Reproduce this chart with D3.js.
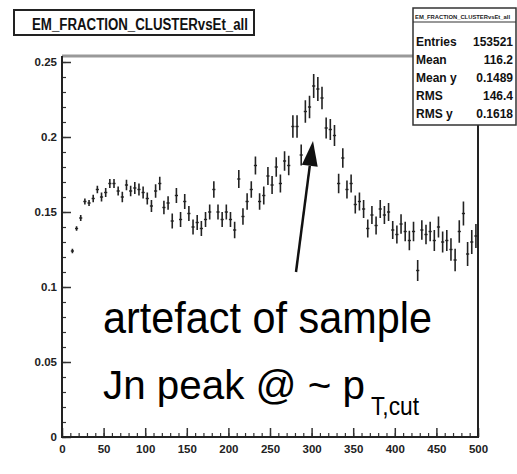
<!DOCTYPE html>
<html><head><meta charset="utf-8">
<script src="https://cdn.jsdelivr.net/npm/d3@7"></script>
<style>html,body{margin:0;padding:0;background:#fff;}</style>
</head><body>
<script>
// ---- data ----
const binLow = 0, binHigh = 500, nBins = 100;
const values = [
null,null,0.124,0.139,0.146,0.157,0.156,0.159,0.165,0.160,
0.163,0.169,0.169,0.164,0.160,0.168,0.164,0.166,0.165,0.163,
0.159,0.154,0.164,0.169,0.153,0.156,0.144,0.161,0.145,0.157,
0.149,0.140,0.143,0.139,0.145,0.150,0.165,0.150,0.145,0.150,
0.145,0.138,0.172,0.147,0.157,0.165,0.181,0.157,0.161,0.174,
0.168,0.180,0.169,0.184,0.181,0.207,0.207,0.188,0.217,0.220,
0.234,0.232,0.226,0.206,0.205,0.201,0.169,0.186,0.165,0.169,
0.155,0.157,0.152,0.139,0.148,0.141,0.152,0.148,0.150,0.138,
0.135,0.142,0.137,0.131,0.137,0.111,0.138,0.135,0.137,0.131,
0.140,0.130,0.131,0.125,0.118,0.137,0.149,0.122,0.130,0.134];
const errors = [
0.001,0.001,0.0015,0.0015,0.002,0.002,0.002,0.0025,0.0025,0.003,
0.003,0.003,0.003,0.003,0.0035,0.0035,0.0035,0.004,0.004,0.004,
0.004,0.004,0.0045,0.0045,0.0045,0.0045,0.005,0.005,0.005,0.005,
0.005,0.005,0.005,0.005,0.005,0.005,0.0055,0.005,0.005,0.005,
0.005,0.0055,0.006,0.0055,0.0055,0.0055,0.006,0.0055,0.006,0.006,
0.006,0.0065,0.006,0.0065,0.0065,0.0075,0.0075,0.007,0.0075,0.0075,
0.008,0.008,0.0075,0.007,0.007,0.007,0.0065,0.0065,0.006,0.006,
0.006,0.006,0.006,0.006,0.006,0.006,0.006,0.006,0.006,0.006,
0.006,0.0065,0.0065,0.0065,0.0065,0.007,0.0065,0.0065,0.0065,0.007,
0.007,0.007,0.007,0.0075,0.0075,0.0075,0.008,0.008,0.008,0.008];
const xTicks = [0,50,100,150,200,250,300,350,400,450,500];
const xTickLabels = ["0","50","100","150","200","250","300","350","400","450","500"];
const yTicks = [0,0.05,0.1,0.15,0.2,0.25];
const yTickLabels = ["0","0.05","0.1","0.15","0.2","0.25"];
const title = "EM_FRACTION_CLUSTERvsEt_all";
const statNames = ["Entries","Mean","Mean y","RMS","RMS y"];
const statValues = ["153521","116.2","0.1489","146.4","0.1618"];
const noteLine1 = "artefact of sample";
const noteLine2 = "Jn peak @ ~ p";
const noteSub = "T,cut";

// ---- drawing ----
const W = 517, H = 474;
const svg = d3.select("body").append("svg").attr("width", W).attr("height", H)
  .style("font-family", "'Liberation Sans', Arial, sans-serif");
svg.append("rect").attr("width", W).attr("height", H).attr("fill", "#fff");

const x = d3.scaleLinear().domain([0, 500]).range([62, 478]);
const y = d3.scaleLinear().domain([0, 0.25]).range([437, 62]);
const yTop = 56;

// minor ticks
const minorX = d3.range(0, 501, 10);
const minorY = d3.range(0, 0.2501, 0.01);
svg.append("g").attr("transform", "translate(0,437)")
  .call(d3.axisBottom(x).tickValues(minorX).tickSize(-4).tickFormat(""))
  .call(g => g.select(".domain").remove())
  .selectAll("line").attr("stroke", "#333").attr("stroke-width", 1.2);
svg.append("g").attr("transform", "translate(62,0)")
  .call(d3.axisLeft(y).tickValues(minorY).tickSize(-4).tickFormat(""))
  .call(g => g.select(".domain").remove())
  .selectAll("line").attr("stroke", "#333").attr("stroke-width", 1.2);

// major axes
const gx = svg.append("g").attr("transform", "translate(0,437)")
  .call(d3.axisBottom(x).tickValues(xTicks).tickSize(-9).tickPadding(14)
    .tickFormat((d, i) => xTickLabels[i]));
gx.select(".domain").remove();
gx.selectAll("line").attr("stroke", "#333").attr("stroke-width", 1.5);
gx.selectAll("text").attr("font-size", 11.5).attr("fill", "#222").attr("font-weight", "bold")
  .attr("dy", "0.2em");

const gy = svg.append("g").attr("transform", "translate(62,0)")
  .call(d3.axisLeft(y).tickValues(yTicks).tickSize(-9).tickPadding(5)
    .tickFormat((d, i) => yTickLabels[i]));
gy.select(".domain").remove();
gy.selectAll("line").attr("stroke", "#333").attr("stroke-width", 1.5);
gy.selectAll("text").attr("font-size", 11.5).attr("fill", "#222").attr("font-weight", "bold")
  .attr("x", -5);

// frame
svg.append("line").attr("x1", 62).attr("x2", 478).attr("y1", yTop).attr("y2", yTop)
  .attr("stroke", "#999").attr("stroke-width", 3);
svg.append("line").attr("x1", 62).attr("x2", 62).attr("y1", yTop).attr("y2", 437)
  .attr("stroke", "#222").attr("stroke-width", 2);
svg.append("line").attr("x1", 478).attr("x2", 478).attr("y1", yTop).attr("y2", 437)
  .attr("stroke", "#222").attr("stroke-width", 2);
svg.append("line").attr("x1", 61).attr("x2", 479).attr("y1", 437).attr("y2", 437)
  .attr("stroke", "#222").attr("stroke-width", 2);

// data points with error bars
const bw = (binHigh - binLow) / nBins;
const pts = values.map((v, i) => ({ lo: binLow + i * bw, c: binLow + (i + 0.5) * bw, hi: binLow + (i + 1) * bw, v, e: errors[i] }))
  .filter(d => d.v !== null);
const gp = svg.append("g").attr("stroke", "#222");
gp.selectAll(".ev").data(pts).join("line")
  .attr("x1", d => x(d.c)).attr("x2", d => x(d.c))
  .attr("y1", d => y(d.v - d.e)).attr("y2", d => y(d.v + d.e))
  .attr("stroke-width", 1.6);
gp.selectAll(".eh").data(pts).join("line")
  .attr("x1", d => x(d.lo) + 0.5).attr("x2", d => x(d.hi) - 0.5)
  .attr("y1", d => y(d.v)).attr("y2", d => y(d.v))
  .attr("stroke-width", 1.4);

// title box
svg.append("rect").attr("x", 14).attr("y", 10).attr("width", 240).attr("height", 25)
  .attr("fill", "#fff").attr("stroke", "#222").attr("stroke-width", 2);
svg.append("text").attr("x", 32).attr("y", 29.5).text(title)
  .attr("font-size", 16).attr("font-weight", "bold").attr("fill", "#111")
  .attr("textLength", 216).attr("lengthAdjust", "spacingAndGlyphs");

// stats box
svg.append("rect").attr("x", 413).attr("y", 8).attr("width", 103).attr("height", 117)
  .attr("fill", "#fff").attr("stroke", "#333").attr("stroke-width", 1.5);
svg.append("line").attr("x1", 413).attr("x2", 516).attr("y1", 22).attr("y2", 22)
  .attr("stroke", "#333").attr("stroke-width", 1.2);
svg.append("text").attr("x", 415).attr("y", 19).text(title)
  .attr("font-size", 5.5).attr("font-weight", "bold").attr("fill", "#222")
  .attr("textLength", 95).attr("lengthAdjust", "spacingAndGlyphs");
const rowY = [46, 64, 82, 100, 118];
statNames.forEach((n, i) => {
  svg.append("text").attr("x", 416).attr("y", rowY[i]).text(n)
    .attr("font-size", 12).attr("font-weight", "bold").attr("fill", "#111");
  svg.append("text").attr("x", 513).attr("y", rowY[i]).attr("text-anchor", "end").text(statValues[i])
    .attr("font-size", 12).attr("font-weight", "bold").attr("fill", "#111");
});

// annotation
svg.append("text").attr("x", 103).attr("y", 333).text(noteLine1)
  .attr("font-size", 44).attr("fill", "#000")
  .attr("textLength", 329).attr("lengthAdjust", "spacingAndGlyphs");
svg.append("text").attr("x", 103).attr("y", 399).text(noteLine2)
  .attr("font-size", 40).attr("fill", "#000")
  .attr("textLength", 262).attr("lengthAdjust", "spacingAndGlyphs");
svg.append("text").attr("x", 371).attr("y", 415).text(noteSub)
  .attr("font-size", 26).attr("fill", "#000")
  .attr("textLength", 48).attr("lengthAdjust", "spacingAndGlyphs");

// arrow
const ax0 = 296, ay0 = 272, ax1 = 313, ay1 = 141;
const ang = Math.atan2(ay1 - ay0, ax1 - ax0);
const hl = 25, hw = 8;
const bx = ax1 - hl * Math.cos(ang), by = ay1 - hl * Math.sin(ang);
svg.append("line").attr("x1", ax0).attr("y1", ay0).attr("x2", bx).attr("y2", by)
  .attr("stroke", "#111").attr("stroke-width", 2.5);
svg.append("path")
  .attr("d", `M${ax1},${ay1} L${bx + hw * Math.sin(ang)},${by - hw * Math.cos(ang)} L${bx - hw * Math.sin(ang)},${by + hw * Math.cos(ang)} Z`)
  .attr("fill", "#111");
</script>
</body></html>
